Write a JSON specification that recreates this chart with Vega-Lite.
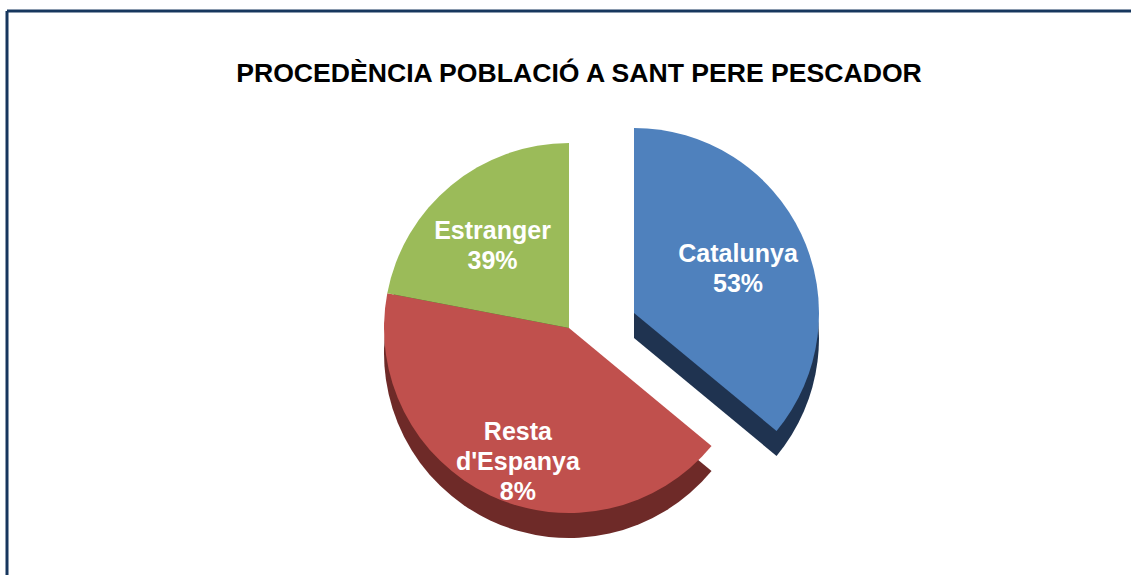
{
  "$schema": "https://vega.github.io/schema/vega-lite/v6.json",
  "autosize": {"type": "fit", "contains": "padding"},
  "width": 1131,
  "height": 575,
  "padding": {"left": 7, "top": 11, "right": 0, "bottom": 0},
  "background": "white",
  "view": {"stroke": "#17375E", "strokeWidth": 3, "fill": "white", "strokeDash": [1124, 1688, 564, 0]},
  "title": {
    "text": "PROCEDÈNCIA POBLACIÓ A SANT PERE PESCADOR",
    "font": "Liberation Sans",
    "fontSize": 26.6,
    "fontWeight": "bold",
    "color": "#000000",
    "anchor": "middle",
    "baseline": "bottom",
    "dx": 10,
    "offset": -104
  },
  "data": {
    "values": [
      {"origen": "Catalunya", "ordre": 1, "quota": 36, "etiqueta": "Catalunya\n53%"},
      {"origen": "Resta d'Espanya", "ordre": 2, "quota": 42, "etiqueta": "Resta\nd'Espanya\n8%"},
      {"origen": "Estranger", "ordre": 3, "quota": 22, "etiqueta": "Estranger\n39%"}
    ]
  },
  "resolve": {"scale": {"color": "independent"}},
  "layer": [
    {
      "mark": {"type": "arc", "outerRadius": 185, "yOffset": 60},
      "encoding": {
        "theta": {"field": "quota", "type": "quantitative", "stack": true},
        "order": {"field": "ordre", "type": "ordinal"},
        "color": {"field": "origen", "type": "nominal", "legend": null,
          "scale": {"domain": ["Catalunya", "Resta d'Espanya", "Estranger"], "range": ["#1F3350", "#6E2A28", "#3E4A22"]}},
        "opacity": {"condition": {"test": "datum.origen === 'Catalunya'", "value": 0}, "value": 1}
      }
    },
    {
      "mark": {"type": "arc", "outerRadius": 185, "yOffset": 45, "xOffset": 65},
      "encoding": {
        "theta": {"field": "quota", "type": "quantitative", "stack": true},
        "order": {"field": "ordre", "type": "ordinal"},
        "color": {"field": "origen", "type": "nominal", "legend": null,
          "scale": {"domain": ["Catalunya", "Resta d'Espanya", "Estranger"], "range": ["#1F3350", "#6E2A28", "#3E4A22"]}},
        "opacity": {"condition": {"test": "datum.origen === 'Catalunya'", "value": 1}, "value": 0}
      }
    },
    {
      "mark": {"type": "arc", "outerRadius": 185, "yOffset": 35},
      "encoding": {
        "theta": {"field": "quota", "type": "quantitative", "stack": true},
        "order": {"field": "ordre", "type": "ordinal"},
        "color": {"field": "origen", "type": "nominal", "legend": null,
          "scale": {"domain": ["Catalunya", "Resta d'Espanya", "Estranger"], "range": ["#4F81BD", "#C0504D", "#9BBB59"]}},
        "opacity": {"condition": {"test": "datum.origen === 'Catalunya'", "value": 0}, "value": 1}
      }
    },
    {
      "mark": {"type": "arc", "outerRadius": 185, "yOffset": 20, "xOffset": 65},
      "encoding": {
        "theta": {"field": "quota", "type": "quantitative", "stack": true},
        "order": {"field": "ordre", "type": "ordinal"},
        "color": {"field": "origen", "type": "nominal", "legend": null,
          "scale": {"domain": ["Catalunya", "Resta d'Espanya", "Estranger"], "range": ["#4F81BD", "#C0504D", "#9BBB59"]}},
        "opacity": {"condition": {"test": "datum.origen === 'Catalunya'", "value": 1}, "value": 0}
      }
    },
    {
      "mark": {"type": "text", "radius": 120, "yOffset": 30, "lineBreak": "\n", "font": "Liberation Sans", "fontSize": 25, "fontWeight": "bold", "fill": "white", "lineHeight": 30},
      "encoding": {
        "theta": {"field": "quota", "type": "quantitative", "stack": true},
        "order": {"field": "ordre", "type": "ordinal"},
        "text": {"field": "etiqueta", "type": "nominal"},
        "opacity": {"condition": {"test": "datum.origen === 'Catalunya'", "value": 0}, "value": 1}
      }
    },
    {
      "mark": {"type": "text", "radius": 115, "yOffset": 10, "xOffset": 65, "lineBreak": "\n", "font": "Liberation Sans", "fontSize": 25, "fontWeight": "bold", "fill": "white", "lineHeight": 30},
      "encoding": {
        "theta": {"field": "quota", "type": "quantitative", "stack": true},
        "order": {"field": "ordre", "type": "ordinal"},
        "text": {"field": "etiqueta", "type": "nominal"},
        "opacity": {"condition": {"test": "datum.origen === 'Catalunya'", "value": 1}, "value": 0}
      }
    }
  ]
}
